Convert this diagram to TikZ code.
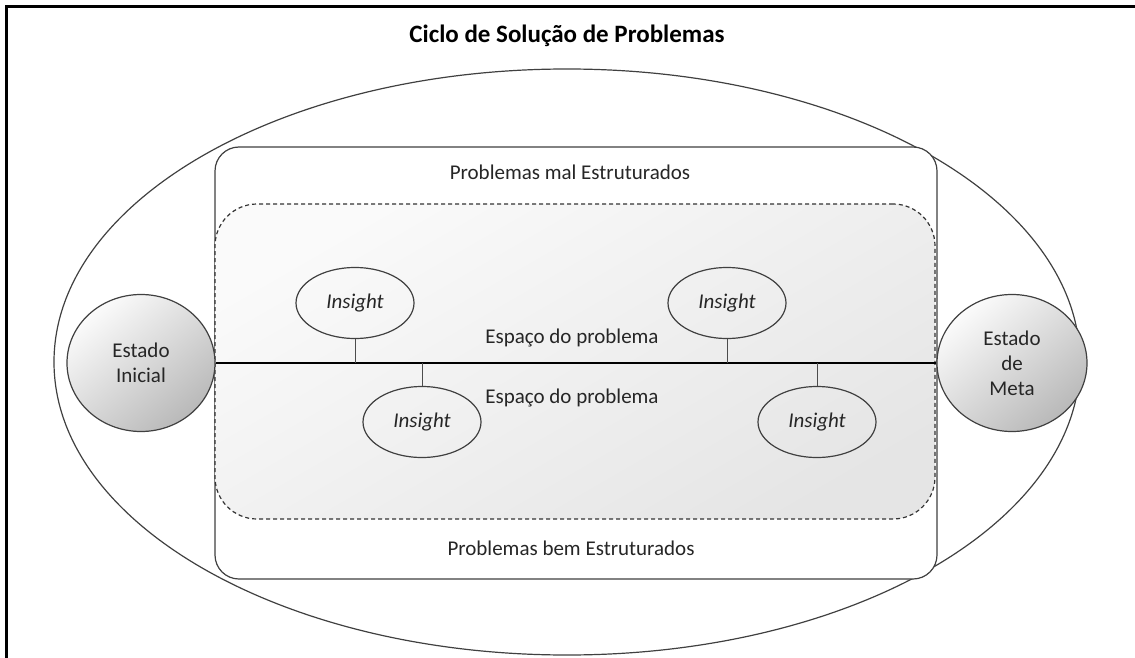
\documentclass[tikz,border=0pt]{standalone}
\usepackage{fontspec}
\setmainfont{Carlito}
\usetikzlibrary{shapes.geometric}
\begin{document}
\begin{tikzpicture}[x=1pt,y=-1pt,
  txt/.style={font=\fontsize{21}{25}\selectfont, inner sep=0pt, text=black!85},
  thinline/.style={draw=black!75, line width=1.2pt},
  insightnode/.style={ellipse, thinline, minimum width=118pt, minimum height=71pt, inner sep=0pt,
     font=\fontsize{21}{25}\selectfont\itshape, text=black!85},
  statenode/.style={ellipse, thinline, minimum width=148pt, minimum height=137pt, inner sep=0pt,
     align=center, font=\fontsize{21}{25}\selectfont, text=black!85,
     top color=gray!3, bottom color=gray!55, shading angle=40},
  link/.style={draw=black!70, line width=1pt}
]
\useasboundingbox (0,0) rectangle (1135,658);
% frame (top and left only)
\coordinate (ftl) at (6,7);
\coordinate (ftr) at (1135,7);
\coordinate (fbl) at (6,658);
\draw[line width=3pt, black] (ftr) -- (ftl) -- (fbl);
% title
\node[font=\fontsize{25}{30}\selectfont\bfseries, inner sep=0pt] (title) at (567,36) {Ciclo de Solução de Problemas};
% outer ellipse
\node[ellipse, thinline, minimum width=1026pt, minimum height=586pt, inner sep=0pt] (outer) at (567,362) {};
% solid rounded rectangle
\node[thinline, fill=white, rounded corners=24pt, minimum width=722pt, minimum height=432pt, inner sep=0pt] (wellbox) at (576,363) {};
% dashed shaded region
\node[draw=black!80, line width=1.2pt, dash pattern=on 4pt off 3pt, rounded corners=42pt,
      top color=gray!4, bottom color=gray!20, shading angle=30,
      minimum width=720pt, minimum height=315pt, inner sep=0pt] (space) at (575,361.5) {};
% labels
\node[txt] (mal) at (570,172) {Problemas mal Estruturados};
\node[txt] (bem) at (571,548) {Problemas bem Estruturados};
\node[txt] (esp1) at (572,338) {Espaço do problema};
\node[txt] (esp2) at (572,398) {Espaço do problema};
% states
\node[statenode] (ini) at (141,363) {Estado\\Inicial};
\node[statenode, minimum width=150pt] (meta) at (1012,363) {Estado\\de\\Meta};
% main line
\draw[line width=2.5pt, black] (ini.east) -- (meta.west);
% insights
\node[insightnode] (i1) at (355,303) {Insight};
\node[insightnode] (i2) at (422,422) {Insight};
\node[insightnode] (i3) at (727,303) {Insight};
\node[insightnode] (i4) at (817,422) {Insight};
\coordinate (p1) at (355,363);
\coordinate (p2) at (422,363);
\coordinate (p3) at (727,363);
\coordinate (p4) at (817,363);
\draw[link] (i1.south) -- (p1);
\draw[link] (i2.north) -- (p2);
\draw[link] (i3.south) -- (p3);
\draw[link] (i4.north) -- (p4);
\end{tikzpicture}
\end{document}
